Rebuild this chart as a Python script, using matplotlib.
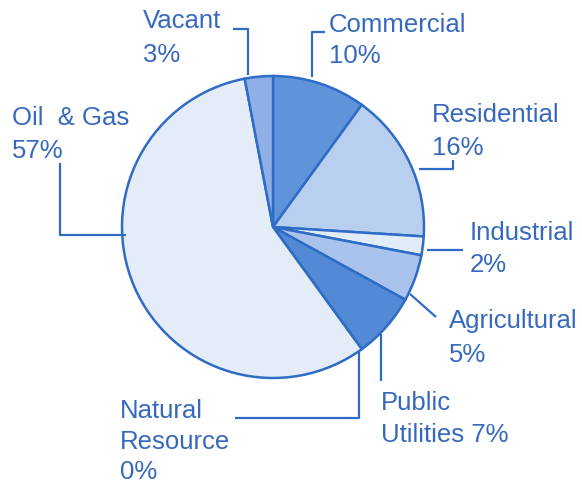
import matplotlib
matplotlib.use("Agg")
import matplotlib.pyplot as plt

# land use shares, clockwise from 12 o'clock
categories = ["Commercial", "Residential", "Industrial", "Agricultural",
              "Public Utilities", "Natural Resource", "Oil & Gas", "Vacant"]
shares = [10, 16, 2, 5, 7, 0, 57, 3]
label_text = {
    "Vacant": ["Vacant", "3%"],
    "Commercial": ["Commercial", "10%"],
    "Residential": ["Residential", "16%"],
    "Industrial": ["Industrial", "2%"],
    "Agricultural": ["Agricultural", "5%"],
    "Public Utilities": ["Public", "Utilities 7%"],
    "Natural Resource": ["Natural", "Resource", "0%"],
    "Oil & Gas": ["Oil  & Gas", "57%"],
}

W, H = 582, 485
blue = "#2f6cc6"
text_blue = "#3669bd"
fills = ["#5f94da", "#b9cfef", "#e2ebf8", "#a9c3ec", "#528ad6", "#e6eef9",
         "#e4ecf8", "#8fb0e6"]

# label placement in pixel coords: left x, baselines, leader polyline
layout = {
    "Vacant": (143, [28, 62], [(233, 30), (248, 30), (248, 76)]),
    "Commercial": (329, [32, 63], [(325, 33), (312, 33), (312, 78)]),
    "Residential": (432, [122, 155], [(419, 170), (453, 170), (453, 161)]),
    "Industrial": (470, [240, 272], [(427, 251), (463, 251)]),
    "Agricultural": (449, [328, 362], [(410, 295), (436, 318)]),
    "Public Utilities": (381, [410, 442], [(381, 335), (381, 382)]),
    "Natural Resource": (120, [418, 449, 479], [(235, 419), (359, 419), (359, 352)]),
    "Oil & Gas": (12, [125, 158], [(60, 164), (60, 236), (126, 236)]),
}


def Y(py):
    return H - py


fig = plt.figure(figsize=(W / 100, H / 100), dpi=100)
ax = fig.add_axes([0, 0, 1, 1])

ax.pie(shares, colors=fills, startangle=90, counterclock=False,
       center=(273, Y(228)), radius=151, frame=True,
       wedgeprops=dict(edgecolor=blue, linewidth=1.8))
ax.set_xlim(0, W)
ax.set_ylim(0, H)
ax.set_aspect("equal")
ax.axis("off")

for name in categories:
    x0, baselines, path = layout[name]
    for line, by in zip(label_text[name], baselines):
        ax.text(x0, Y(by), line, fontsize=18.5, family="Liberation Sans",
                color=text_blue, ha="left", va="baseline")
    ax.plot([p[0] for p in path], [Y(p[1]) for p in path], color=blue,
            linewidth=1.6, solid_capstyle="butt")

fig.savefig("out.png", dpi=100, facecolor="white")
